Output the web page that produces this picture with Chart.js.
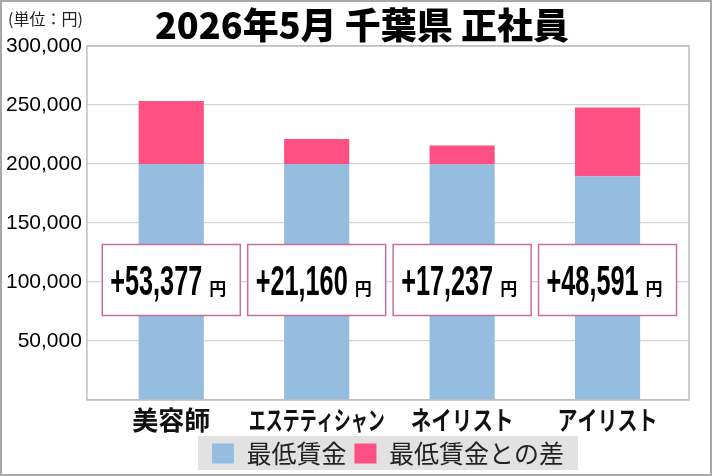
<!DOCTYPE html>
<html lang="ja">
<head>
<meta charset="utf-8">
<script src="https://cdn.jsdelivr.net/npm/chart.js@4.4.1/dist/chart.umd.min.js"></script>
<style>
  html, body { margin: 0; padding: 0; background: #fff; }
  #wrap { width: 712px; height: 476px; position: relative; }
</style>
</head>
<body>
<div id="wrap"><canvas id="wageChart"></canvas></div>
<script>
// data
const categories = ['美容師', 'エステティシャン', 'ネイリスト', 'アイリスト'];
const minWage    = [200000, 200000, 199500, 189600];
const wageGap    = [53377, 21160, 16100, 58200];
const gapLabels  = ['+53,377', '+21,160', '+17,237', '+48,591'];
const yTickValues = [0, 50000, 100000, 150000, 200000, 250000, 300000];
const chartTitle = '2026年5月 千葉県 正社員';

const jpFont  = "'Noto Sans CJK JP', 'Noto Sans', sans-serif";
const numFont = "'Liberation Sans Narrow', 'Liberation Sans', Arial, sans-serif";

// squeeze the kana labels like the original font does
const labelWidths = [80, 136, 103, 100];

const decor = {
  id: 'decor',
  beforeDraw(chart) {
    const { ctx, legend } = chart;
    const boxes = legend.legendHitBoxes || [];
    if (!boxes.length) return;
    const l = Math.min(...boxes.map(b => b.left)) - 14;
    const r = Math.max(...boxes.map(b => b.left + b.width)) + 14;
    const t = boxes[0].top - 5;
    ctx.save();
    ctx.fillStyle = '#e2e2e2';
    ctx.fillRect(l, t, r - l, boxes[0].height + 9);
    ctx.restore();
  },
  beforeDatasetsDraw(chart) {
    const { ctx, chartArea: a } = chart;
    ctx.save();
    ctx.strokeStyle = '#b4b4b4';
    ctx.lineWidth = 1.3;
    ctx.strokeRect(a.left, a.top, a.right - a.left, a.bottom - a.top);
    ctx.restore();
  },
  afterDatasetsDraw(chart) {
    const { ctx, scales: { x, y } } = chart;
    const cy = y.getPixelForValue(100000) - 2;
    ctx.save();
    gapLabels.forEach((txt, i) => {
      const cx = x.getPixelForValue(i);
      ctx.fillStyle = '#fff';
      ctx.fillRect(cx - 69, cy - 35.5, 138, 71);
      ctx.strokeStyle = '#c96fa0';
      ctx.lineWidth = 1.5;
      ctx.strokeRect(cx - 69, cy - 35.5, 138, 71);
      ctx.fillStyle = '#000';
      ctx.textAlign = 'left';
      ctx.textBaseline = 'alphabetic';
      ctx.font = 'bold 42px ' + numFont;
      ctx.fillText(txt, cx - 61, cy + 15, 92);
      ctx.font = 'bold 17px ' + jpFont;
      ctx.fillText('円', cx + 38, cy + 15);
    });
    ctx.restore();
  },
  afterDraw(chart) {
    const { ctx, chartArea: a, scales: { x } } = chart;
    ctx.save();
    // title
    ctx.fillStyle = '#000';
    ctx.textAlign = 'center';
    ctx.textBaseline = 'middle';
    ctx.font = '900 36px ' + jpFont;
    ctx.fillText(chartTitle, 362, 25);
    // category labels under the plot
    ctx.fillStyle = '#111';
    ctx.font = 'bold 26px ' + jpFont;
    categories.forEach((c, i) => {
      ctx.fillText(c, x.getPixelForValue(i), a.bottom + 20, labelWidths[i]);
    });
    // unit note
    ctx.textAlign = 'left';
    ctx.textBaseline = 'alphabetic';
    ctx.font = '16px ' + jpFont;
    ctx.fillStyle = '#222';
    ctx.fillText('(単位：円)', 8, 25);
    // outer frame
    ctx.strokeStyle = '#a8a8a8';
    ctx.lineWidth = 2;
    ctx.strokeRect(1, 1, chart.width - 2, chart.height - 2);
    ctx.restore();
  }
};

const ctx = document.getElementById('wageChart').getContext('2d');
const wageChart = new Chart(ctx, {
  type: 'bar',
  data: {
    datasets: [
      {
        label: '最低賃金',
        backgroundColor: '#94bddf',
        data: minWage.map((v, i) => ({ x: i, y: v }))
      },
      {
        label: '最低賃金との差',
        backgroundColor: '#fe5083',
        data: wageGap.map((v, i) => ({ x: i, y: v }))
      }
    ]
  },
  options: {
    responsive: true,
    maintainAspectRatio: false,
    animation: false,
    layout: { padding: { left: 1, right: 23, top: 46, bottom: 0 } },
    datasets: { bar: { categoryPercentage: 1, barPercentage: 0.448 } },
    scales: {
      x: {
        type: 'linear',
        stacked: true,
        offset: false,
        min: -0.58,
        max: 3.56,
        afterBuildTicks: s => { s.ticks = categories.map((c, i) => ({ value: i })); },
        ticks: { display: false },
        grid: { display: false },
        border: { display: false },
        afterFit: s => { s.height = 33; }
      },
      y: {
        stacked: true,
        min: 0,
        max: 300000,
        afterBuildTicks: s => { s.ticks = yTickValues.map(v => ({ value: v })); },
        ticks: {
          callback: v => v === 0 ? '' : v.toLocaleString('en-US'),
          color: '#000',
          padding: 5,
          font: { size: 21, family: "'Liberation Sans', Arial, sans-serif" }
        },
        grid: { color: '#d4d4d4', lineWidth: 1.3, drawTicks: false },
        border: { display: false }
      }
    },
    plugins: {
      title: { display: false },
      legend: {
        position: 'bottom',
        fullSize: false,
        labels: {
          boxWidth: 22,
          boxHeight: 20,
          padding: 8,
          color: '#222',
          font: { size: 25, family: jpFont }
        }
      },
      tooltip: { enabled: false }
    }
  },
  plugins: [decor]
});
</script>
</body>
</html>
